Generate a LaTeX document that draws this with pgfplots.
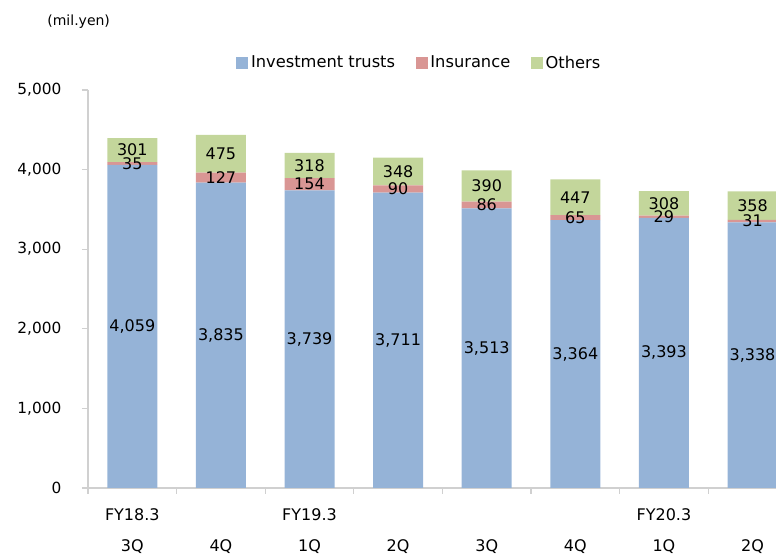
\documentclass[border=0pt]{standalone}
\usepackage{fontspec}
\setmainfont{DejaVu Sans}
\usepackage{pgfplots}
\pgfplotsset{compat=1.18}
\definecolor{cInv}{HTML}{95B3D7}
\definecolor{cIns}{HTML}{D99694}
\definecolor{cOth}{HTML}{C3D69B}
\definecolor{axgray}{HTML}{D0D0D0}
\begin{document}
\begin{tikzpicture}
\useasboundingbox (0,0) rectangle (582pt,416.25pt);
\node[font=\fontsize{10.5}{12}\selectfont, anchor=center] at (59pt,400pt) {(mil.yen)};
\begin{axis}[
  at={(66pt,50.25pt)}, anchor=south west,
  scale only axis, width=516pt, height=298.5pt,
  ybar stacked, bar width=37.5pt,
  xmin=-0.5, xmax=7.265, ymin=0, ymax=5000,
  axis lines*=left,
  axis line style={axgray, line width=0.9pt, -},
  tick style={axgray, line width=0.9pt},
  tick align=outside, major tick length=4.5pt,
  xtick={-0.5,0.5,1.5,2.5,3.5,4.5,5.5,6.5},
  xticklabels={},
  extra x ticks={0,1,2,3,4,5,6,7},
  extra x tick labels={{FY18.3\\3Q},{\vphantom{FY}\\4Q},{FY19.3\\1Q},{\vphantom{FY}\\2Q},{\vphantom{FY}\\3Q},{\vphantom{FY}\\4Q},{FY20.3\\1Q},{\vphantom{FY}\\2Q}},
  extra x tick style={major tick length=0pt, xticklabel style={align=center, font=\fontsize{12}{23}\selectfont, yshift=-12pt}},
  ytick={0,1000,2000,3000,4000,5000},
  scaled y ticks=false,
  /pgf/number format/1000 sep={,},
  /pgf/number format/assume math mode=true,
  yticklabel style={font=\fontsize{11.5}{13}\selectfont, xshift=-12pt},
  legend style={at={(0.469,1.068)}, anchor=center, draw=none, fill=none,
    legend columns=3, font=\fontsize{12.2}{14}\selectfont,
    /tikz/column sep=0pt,
    /tikz/every odd column/.style={column sep=0pt},
    /tikz/every even column/.style={column sep=0pt}},
  legend image code/.code={\path (0pt,0pt); \fill[#1] (13.5pt,-4.5pt) rectangle (22.5pt,4.5pt);},
  nodes near coords,
  every node near coord/.append style={font=\fontsize{12}{14}\selectfont, text=black, anchor=center},
  clip=false,
]
\addplot[fill=cInv, draw=none] coordinates {(0,4059) (1,3835) (2,3739) (3,3711) (4,3513) (5,3364) (6,3393) (7,3338)};
\addplot[fill=cIns, draw=none] coordinates {(0,35) (1,127) (2,154) (3,90) (4,86) (5,65) (6,29) (7,31)};
\addplot[fill=cOth, draw=none] coordinates {(0,301) (1,475) (2,318) (3,348) (4,390) (5,447) (6,308) (7,358)};
\legend{Investment trusts, Insurance, Others}
\end{axis}
\end{tikzpicture}
\end{document}
